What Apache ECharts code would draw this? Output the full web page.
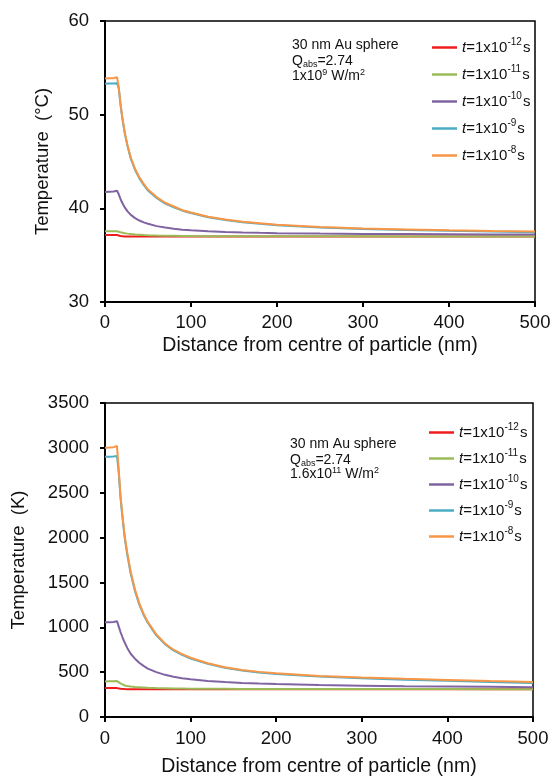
<!DOCTYPE html>
<html>
<head>
<meta charset="utf-8">
<script src="https://cdn.jsdelivr.net/npm/echarts@6/dist/echarts.min.js"></script>
<style>html,body{margin:0;padding:0;background:#fff}#c{width:555px;height:778px}</style>
</head>
<body>
<div id="c"></div>
<script>
const distance = [0,5,10,14,16,18,20,23,26,30,35,40,45,50,60,70,80,90,100,120,140,160,180,200,250,300,350,400,450,500];
const seriesNames = ['12','11','10','9','8'];
const colors = ['#ee1c1c','#9bbb59','#8064a2','#4bacc6','#f79646'];

const topRed    = [37.15,37.15,37.15,37.15,37.1,37.05,37.02,37.0,37.0,37.0,37.0,37.0,37.0,37.0,37.0,37.0,37.0,37.0,37.0,37.0,37.0,37.0,37.0,37.0,37.0,37.0,37.0,37.0,37.0,37.0];
const topGreen  = [37.55,37.56,37.56,37.55,37.5,37.45,37.4,37.35,37.3,37.25,37.2,37.17,37.14,37.12,37.09,37.07,37.06,37.05,37.04,37.03,37.03,37.02,37.02,37.02,37.01,37.01,37.0,37.0,37.0,37.0];
const topPurple = [41.75,41.78,41.8,41.88,41.5,41.0,40.6,40.1,39.7,39.3,38.95,38.7,38.5,38.35,38.1,37.95,37.82,37.72,37.65,37.55,37.48,37.42,37.38,37.35,37.3,37.27,37.25,37.23,37.21,37.2];
const topTeal   = [53.3,53.32,53.33,53.35,52.8,51.1,49.7,48.0,46.7,45.3,44.1,43.2,42.5,41.9,41.1,40.5,40.1,39.75,39.5,39.05,38.75,38.52,38.35,38.2,37.95,37.8,37.7,37.6,37.52,37.45];
const topOrange = [53.85,53.88,53.9,54.0,52.9,51.2,49.8,48.1,46.8,45.4,44.2,43.3,42.6,42.0,41.2,40.6,40.2,39.8,39.55,39.1,38.8,38.58,38.4,38.25,38.0,37.85,37.75,37.66,37.58,37.52];

const botRed    = [322,322,322,322,318,314,312,311,310,310,310,310,310,310,310,310,310,310,310,310,310,310,310,310,310,310,310,310,310,310];
const botGreen  = [397,398,398,400,390,375,362,352,345,340,335,332,329,326,322,320,318,317,316,315,314,313,313,312,312,311,311,311,310,310];
const botPurple = [1055,1057,1060,1068,1010,950,900,830,770,705,650,605,570,540,500,470,448,432,420,402,390,380,373,367,356,349,343,339,336,333];
const botTeal   = [2900,2902,2905,2910,2730,2460,2260,2000,1810,1600,1405,1255,1140,1050,910,812,742,692,652,592,548,518,496,480,451,432,416,403,390,380];
const botOrange = [3000,3003,3008,3020,2760,2480,2280,2020,1830,1620,1420,1270,1150,1060,920,820,750,700,660,600,555,525,503,487,458,440,425,413,400,390];

const topTicks = {min:30, max:60, interval:10};
const botTicks = {min:0, max:3500, interval:500};
const xTicks = {min:0, max:500, interval:100};

const FONT = 'Liberation Sans, Arial, sans-serif';
const topData = [topRed, topGreen, topPurple, topTeal, topOrange];
const botData = [botRed, botGreen, botPurple, botTeal, botOrange];

function pairs(arr){ return distance.map((d,i)=>[d,arr[i]]); }

const series = [];
topData.forEach((arr,i)=>series.push({
  name: seriesNames[i], type:'line', xAxisIndex:0, yAxisIndex:0, data: pairs(arr),
  symbol:'none', lineStyle:{width:2, color:colors[i]}, itemStyle:{color:colors[i]}, z: 2+i, animation:false
}));
botData.forEach((arr,i)=>series.push({
  name: seriesNames[i], type:'line', xAxisIndex:1, yAxisIndex:1, data: pairs(arr),
  symbol:'none', lineStyle:{width:2, color:colors[i]}, itemStyle:{color:colors[i]}, z: 2+i, animation:false
}));

const legendRich = {
  i:{fontFamily:FONT, fontSize:15, fontStyle:'italic', color:'#111'},
  n:{fontFamily:FONT, fontSize:15, color:'#111'},
  sup:{fontFamily:FONT, fontSize:10, color:'#111', padding:[0,1,11,0]}
};
function legendFmt(name){ return '{i|t}{n|=1x10}{sup|-' + name + '}{n|s}'; }

function xAxis(gi){
  return {type:'value', gridIndex:gi, min:xTicks.min, max:xTicks.max, interval:xTicks.interval,
    name:'Distance from centre of particle (nm)', nameLocation:'middle', nameGap: gi===0?34:40,
    nameTextStyle:{fontFamily:FONT, fontSize:19.5, color:'#111'},
    axisLine:{show:true, onZero:false, lineStyle:{color:'#000', width:2}},
    axisTick:{show:true, inside:false, length:5, lineStyle:{color:'#000', width:2}},
    axisLabel:{fontFamily:FONT, fontSize:18.5, color:'#111', margin: gi===0?11:12, formatter:v=>String(v)},
    splitLine:{show:false}};
}
function yAxis(gi, t, name, gap){
  return {type:'value', gridIndex:gi, min:t.min, max:t.max, interval:t.interval,
    name:name, nameLocation:'middle', nameGap:gap, nameRotate:90,
    nameTextStyle:{fontFamily:FONT, fontSize:18.5, color:'#111'},
    axisLine:{show:true, onZero:false, lineStyle:{color:'#000', width:2}},
    axisTick:{show:true, inside:false, length:5, lineStyle:{color:'#000', width:2}},
    axisLabel:{fontFamily:FONT, fontSize:18.5, color:'#111', margin:16, formatter:v=>String(v)},
    splitLine:{show:false}};
}

const chart = echarts.init(document.getElementById('c'), null, {renderer:'canvas'});
chart.setOption({
  animation:false,
  backgroundColor:'#fff',
  grid:[
    {left:105, top:21, width:430, height:281, show:true, borderColor:'#000', borderWidth:1.5, backgroundColor:'transparent'},
    {left:105, top:403, width:428, height:314, show:true, borderColor:'#000', borderWidth:1.5, backgroundColor:'transparent'}
  ],
  xAxis:[xAxis(0), xAxis(1)],
  yAxis:[yAxis(0, topTicks, 'Temperature  (°C)', 53), yAxis(1, botTicks, 'Temperature  (K)', 77)],
  legend:[
    {data:seriesNames, left:432, top:37, orient:'vertical', itemWidth:25, itemHeight:2.5, itemGap:9, icon:'rect',
     formatter:legendFmt, textStyle:{rich:legendRich}, selectedMode:false, padding:0},
    {data:seriesNames, left:429, top:422, orient:'vertical', itemWidth:25, itemHeight:2.5, itemGap:8, icon:'rect',
     formatter:legendFmt, textStyle:{rich:legendRich}, selectedMode:false, padding:0}
  ],
  graphic:[
    {type:'text', left:292, top:38, style:{text:'30 nm Au sphere', font:'14px '+FONT, fill:'#111'}},
    {type:'text', left:292, top:54, style:{text:'{n|Q}{sub|abs}{n|=2.74}', rich:{n:{font:'14px '+FONT, fill:'#111'}, sub:{font:'9px '+FONT, fill:'#111', padding:[8,0,0,0]}}}},
    {type:'text', left:292, top:68, style:{text:'{n|1x10}{sup|9}{n| W/m}{sup|2}', rich:{n:{font:'14px '+FONT, fill:'#111'}, sup:{font:'9px '+FONT, fill:'#111', padding:[0,0,7,0]}}}},
    {type:'text', left:290, top:437, style:{text:'30 nm Au sphere', font:'14px '+FONT, fill:'#111'}},
    {type:'text', left:290, top:453, style:{text:'{n|Q}{sub|abs}{n|=2.74}', rich:{n:{font:'14px '+FONT, fill:'#111'}, sub:{font:'9px '+FONT, fill:'#111', padding:[8,0,0,0]}}}},
    {type:'text', left:290, top:466, style:{text:'{n|1.6x10}{sup|11}{n| W/m}{sup|2}', rich:{n:{font:'14px '+FONT, fill:'#111'}, sup:{font:'9px '+FONT, fill:'#111', padding:[0,0,7,0]}}}}
  ],
  series: series
});
</script>
</body>
</html>
